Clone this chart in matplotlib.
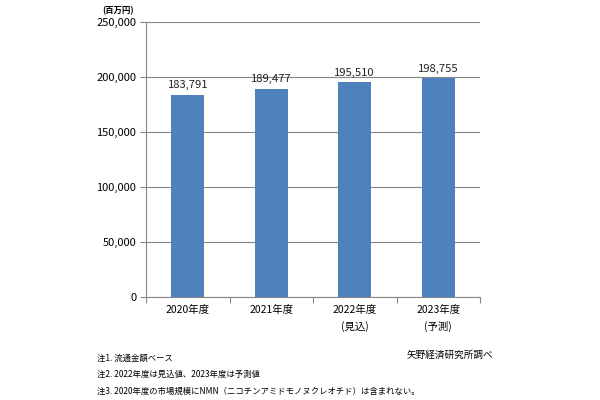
import matplotlib
matplotlib.use("Agg")
import matplotlib.pyplot as plt
from matplotlib.ticker import FuncFormatter, MultipleLocator

plt.rcParams['font.family'] = ['Noto Sans CJK JP', 'DejaVu Sans']

categories = ["2020年度", "2021年度", "2022年度\n(見込)", "2023年度\n(予測)"]
values = [183791, 189477, 195510, 198755]
value_labels = ["183,791", "189,477", "195,510", "198,755"]
unit_label = "(百万円)"
notes = ["注1. 流通金額ベース",
         "注2. 2022年度は見込値、2023年度は予測値",
         "注3. 2020年度の市場規模にNMN（ニコチンアミドモノヌクレオチド）は含まれない。"]
source = "矢野経済研究所調べ"

fig = plt.figure(figsize=(6, 4), dpi=100)
ax = fig.add_axes([146/600, 1-297/400, (480-146)/600, (297-22)/400])

grid_c = "#868686"
x = list(range(len(categories)))
ax.bar(x, values, width=0.39, color="#4F81BD", zorder=3)
for xi, v, lab in zip(x, values, value_labels):
    ax.text(xi, v + 4000, lab, ha="center", va="bottom", fontsize=8.1, color="#222222")

ax.set_xlim(-0.5, len(categories) - 0.5)
ax.set_ylim(0, 250000)
ax.yaxis.set_major_locator(MultipleLocator(50000))
ax.yaxis.set_major_formatter(FuncFormatter(lambda v, p: f"{int(v):,}"))
ax.grid(axis="y", color=grid_c, linewidth=0.8, zorder=0)
for s in ["top", "right"]:
    ax.spines[s].set_visible(False)
for s in ["left", "bottom"]:
    ax.spines[s].set_color(grid_c)
    ax.spines[s].set_linewidth(0.8)

ax.set_xticks(x)
ax.set_xticklabels(categories, fontsize=7.5, linespacing=1.6)
ax.tick_params(axis="x", length=0, pad=6)
ax.set_xticks([i - 0.5 for i in range(len(categories) + 1)], minor=True)
ax.tick_params(axis="x", which="minor", length=4, color=grid_c, width=0.8)
ax.tick_params(axis="y", length=4, color=grid_c, width=0.8, labelsize=8, pad=3)

fig.text(102/600, 1-11/400, unit_label, fontsize=6, fontweight="bold", va="center", ha="left")
for i, n in enumerate(notes):
    fig.text(97/600, 1-(358+16.5*i)/400, n, fontsize=6, va="center", ha="left")
fig.text(493/600, 1-355/400, source, fontsize=6.9, va="center", ha="right")

fig.savefig("out.png", dpi=100)
